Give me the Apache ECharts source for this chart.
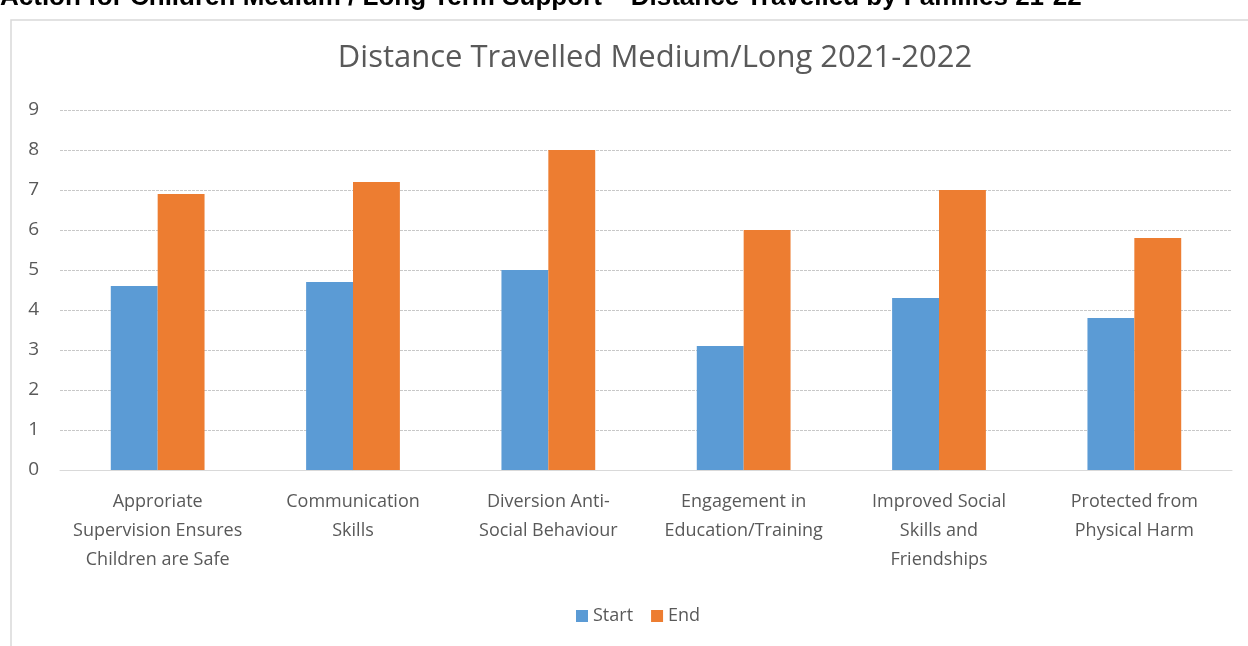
<!DOCTYPE html>
<html lang="en">
<head>
    <meta charset="UTF-8">
    <title>Distance Travelled</title>
    <script src="https://cdn.jsdelivr.net/npm/echarts@6/dist/echarts.min.js"></script>
    <style>
        html, body { margin: 0; padding: 0; background: #fff; overflow: hidden; }
        #main { width: 1248px; height: 646px; }
    </style>
</head>
<body>
    <div id="main"></div>
    <script>
        // 数据
        var categories = [
            'Approriate\nSupervision Ensures\nChildren are Safe',
            'Communication\nSkills',
            'Diversion Anti-\nSocial Behaviour',
            'Engagement in\nEducation/Training',
            'Improved Social\nSkills and\nFriendships',
            'Protected from\nPhysical Harm'
        ];
        var startValues = [4.6, 4.7, 5.0, 3.1, 4.3, 3.8];
        var endValues = [6.9, 7.2, 8.0, 6.0, 7.0, 5.8];
        var yTicks = [0, 1, 2, 3, 4, 5, 6, 7, 8, 9];

        var myChart = echarts.init(document.getElementById('main'));

        var option = {
            animation: false,
            textStyle: { fontFamily: 'Open Sans' },
            graphic: [
                {
                    // 外框
                    type: 'rect',
                    shape: { x: 11, y: 20, width: 1300, height: 700 },
                    style: { fill: '#fff', stroke: '#d9d9d9', lineWidth: 1.5 },
                    z: -10
                },
                {
                    // 页面上方被截断的标题
                    type: 'text',
                    left: 0,
                    top: -15,
                    style: {
                        text: 'Action for Children Medium / Long Term Support \u2013 Distance Travelled by Families 21-22',
                        font: 'bold 26px "Liberation Sans", sans-serif',
                        fill: '#000'
                    }
                }
            ],
            title: {
                text: 'Distance Travelled Medium/Long 2021-2022',
                left: 650,
                textAlign: 'center',
                top: 38,
                textStyle: { fontSize: 31, fontWeight: 'normal', color: '#595959', fontFamily: 'Open Sans' }
            },
            legend: {
                data: ['Start', 'End'],
                left: 571,
                top: 602,
                itemWidth: 12,
                itemHeight: 12,
                icon: 'rect',
                itemGap: 18,
                textStyle: { fontSize: 18, color: '#595959' }
            },
            grid: { left: 60, right: 16, top: 110, bottom: 176 },
            xAxis: {
                type: 'category',
                data: categories,
                axisLine: { lineStyle: { color: '#d9d9d9' } },
                axisTick: { show: false },
                axisLabel: {
                    interval: 0,
                    color: '#595959',
                    fontSize: 18,
                    lineHeight: 29,
                    margin: 17
                }
            },
            yAxis: {
                type: 'value',
                min: yTicks[0],
                max: yTicks[yTicks.length - 1],
                interval: 1,
                axisLine: { show: false },
                axisTick: { show: false },
                axisLabel: { color: '#595959', fontSize: 19, margin: 21 },
                splitLine: { lineStyle: { color: '#c8c8c8', type: [3, 1] } }
            },
            series: [
                {
                    name: 'Start',
                    type: 'bar',
                    data: startValues,
                    itemStyle: { color: '#5b9bd5' },
                    barGap: '0%',
                    barCategoryGap: '52%'
                },
                {
                    name: 'End',
                    type: 'bar',
                    data: endValues,
                    itemStyle: { color: '#ed7d31' },
                    barGap: '0%',
                    barCategoryGap: '52%'
                }
            ]
        };

        myChart.setOption(option);
        window.onresize = myChart.resize;
    </script>
</body>
</html>
